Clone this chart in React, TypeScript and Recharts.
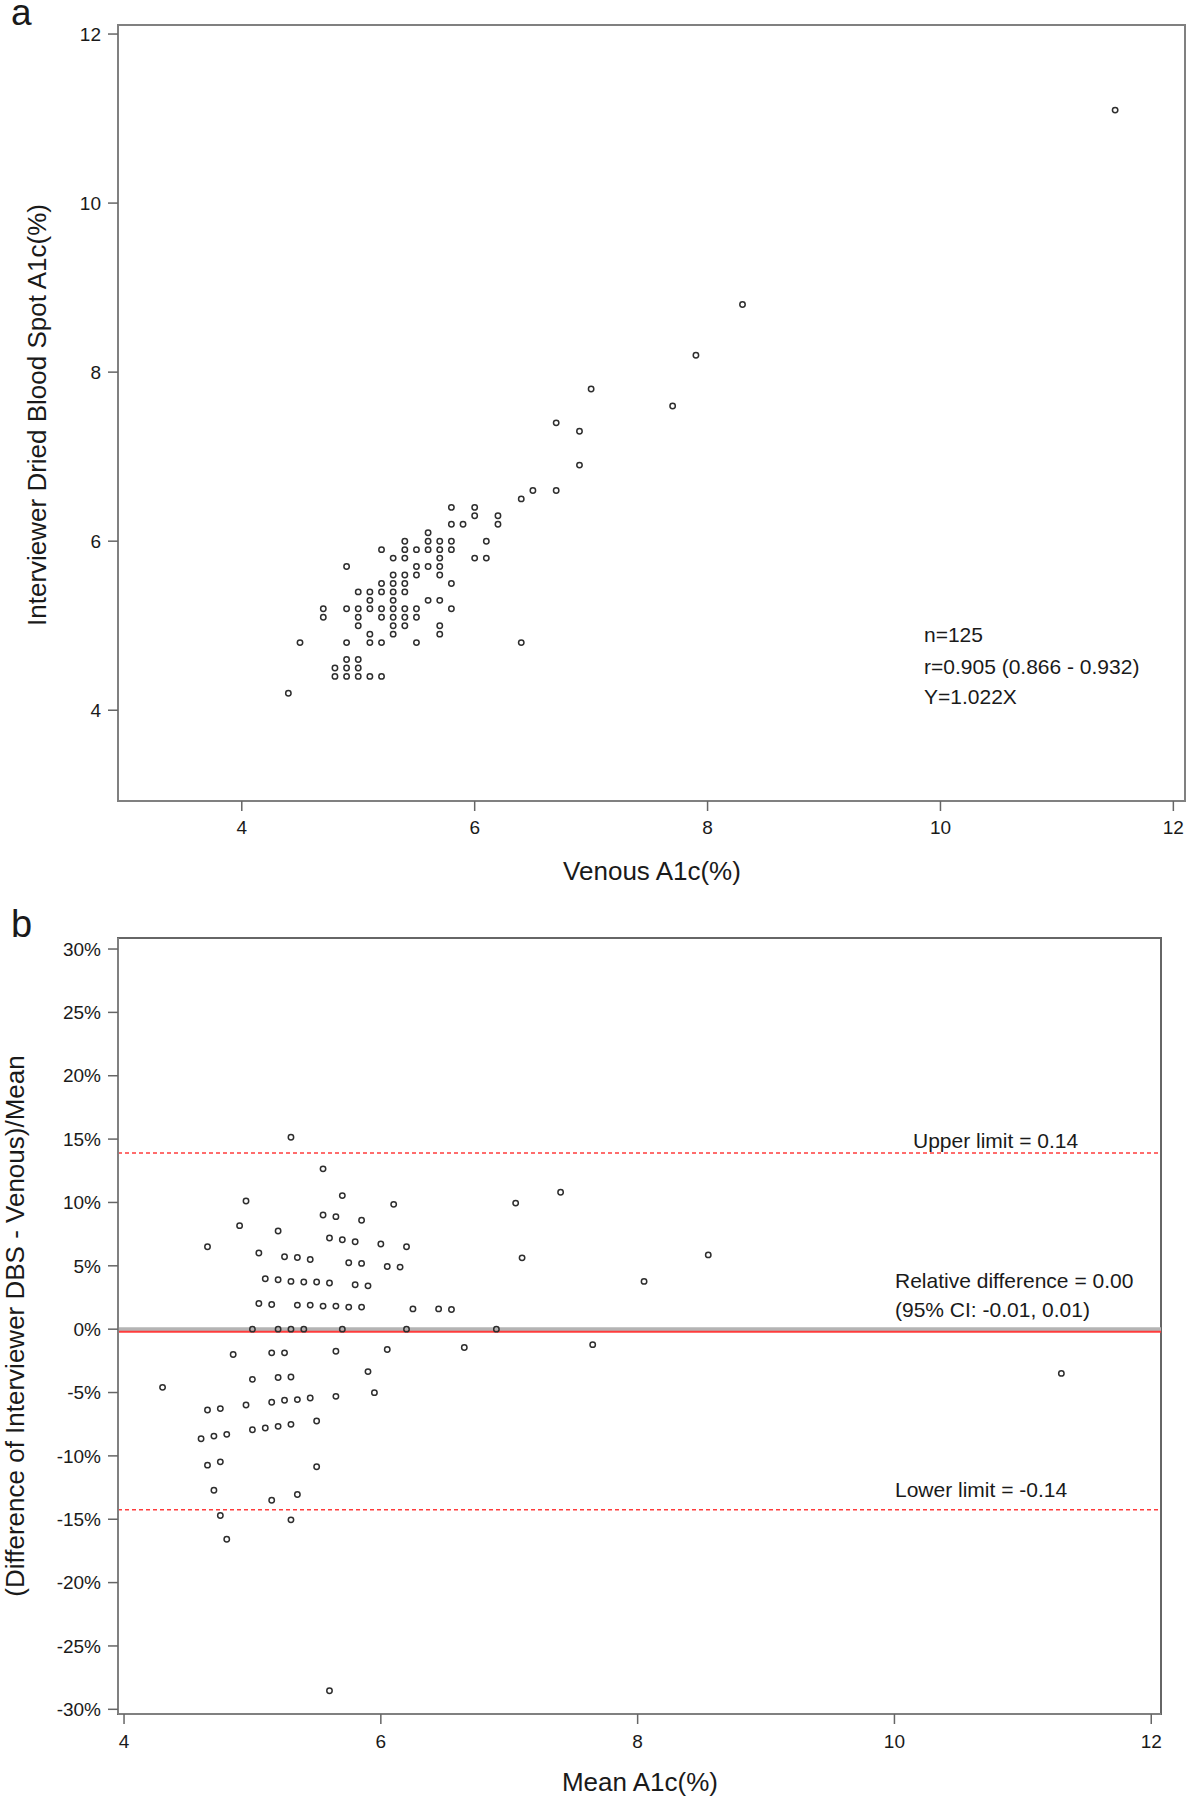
import { ReferenceArea, ReferenceLine, Scatter, ScatterChart, XAxis, YAxis } from 'recharts'

const FONT = '"Liberation Sans", Arial, Helvetica, sans-serif'
const INK = '#1a1a1a'
const FRAME = '#808080'
const RED = '#ff3c3c'

// panel a: venous vs interviewer DBS A1c (%), overlapping points drawn once
const venousA1c = [
  6.5, 6.7, 6.4, 5.8, 6.0, 6.0, 6.2, 5.8, 5.9, 6.2, 5.6,
  5.4, 5.6, 5.7, 5.8, 6.1,
  5.2, 5.4, 5.5, 5.6, 5.7, 5.8,
  5.3, 5.4, 5.7, 6.0, 6.1,
  4.9, 5.5, 5.6, 5.7,
  5.3, 5.4, 5.5, 5.7,
  5.2, 5.3, 5.4, 5.8,
  5.0, 5.1, 5.2, 5.3, 5.4,
  5.1, 5.3, 5.6, 5.7,
  4.7, 4.9, 5.0, 5.1, 5.2, 5.3, 5.4, 5.5, 5.8,
  4.7, 5.0, 5.2, 5.3, 5.4, 5.5,
  5.0, 5.3, 5.4, 5.7,
  5.1, 5.3, 5.7,
  4.5, 4.9, 5.1, 5.2, 5.5, 6.4,
  4.9, 5.0,
  4.8, 4.9, 5.0,
  4.8, 4.9, 5.0, 5.1, 5.2,
  4.4,
  6.7, 6.9, 6.9, 7.0, 7.7, 7.9, 8.3, 11.5,
]
const dbsA1c = [
  6.6, 6.6, 6.5, 6.4, 6.4, 6.3, 6.3, 6.2, 6.2, 6.2, 6.1,
  6.0, 6.0, 6.0, 6.0, 6.0,
  5.9, 5.9, 5.9, 5.9, 5.9, 5.9,
  5.8, 5.8, 5.8, 5.8, 5.8,
  5.7, 5.7, 5.7, 5.7,
  5.6, 5.6, 5.6, 5.6,
  5.5, 5.5, 5.5, 5.5,
  5.4, 5.4, 5.4, 5.4, 5.4,
  5.3, 5.3, 5.3, 5.3,
  5.2, 5.2, 5.2, 5.2, 5.2, 5.2, 5.2, 5.2, 5.2,
  5.1, 5.1, 5.1, 5.1, 5.1, 5.1,
  5.0, 5.0, 5.0, 5.0,
  4.9, 4.9, 4.9,
  4.8, 4.8, 4.8, 4.8, 4.8, 4.8,
  4.6, 4.6,
  4.5, 4.5, 4.5,
  4.4, 4.4, 4.4, 4.4, 4.4,
  4.2,
  7.4, 7.3, 6.9, 7.8, 7.6, 8.2, 8.8, 11.1,
]

// panel b: Bland-Altman, mean A1c vs relative difference (%)
const meanA1c = [
  5.30, 5.55, 4.95, 5.70, 6.10, 4.90, 5.55, 5.65, 5.85, 5.20, 4.65, 5.60,
  5.70, 5.80, 6.00, 6.20, 5.05, 5.25, 5.35, 5.45, 5.75, 5.85, 6.05, 6.15,
  5.10, 5.20, 5.30, 5.40, 5.50, 5.60, 5.80, 5.90, 5.05, 5.15, 5.35, 5.45,
  5.55, 5.65, 5.75, 5.85, 6.25, 6.45, 6.55, 7.05, 7.40, 7.10, 8.55, 8.05,
  5.00, 5.20, 5.30, 5.40, 5.70, 6.20, 6.90,
  4.85, 5.15, 5.25, 5.65, 6.05, 6.65, 7.65, 11.30, 4.30, 5.00, 5.20, 5.30,
  5.90, 5.95, 5.65, 5.45, 5.35, 5.25, 5.15, 4.95, 4.65, 4.75, 5.50, 5.30,
  5.20, 5.10, 5.00, 4.80, 4.70, 4.60, 4.75, 4.65, 5.50, 4.70, 5.35, 5.15,
  4.75, 5.30, 4.80, 5.60,
]
const relDiff = [
  15.15, 12.65, 10.12, 10.54, 9.85, 8.17, 9.01, 8.88, 8.59, 7.75, 6.51, 7.19,
  7.06, 6.90, 6.72, 6.51, 6.01, 5.72, 5.66, 5.50, 5.24, 5.19, 4.95, 4.90,
  3.98, 3.90, 3.77, 3.72, 3.72, 3.64, 3.50, 3.42, 2.03, 1.95, 1.90, 1.90,
  1.82, 1.82, 1.74, 1.74, 1.60, 1.60, 1.55, 9.95, 10.81, 5.63, 5.86, 3.77,
  0, 0, 0, 0, 0, 0, 0,
  -2.0, -1.87, -1.87, -1.74, -1.61, -1.45, -1.22, -3.49, -4.59, -3.96, -3.82, -3.77,
  -3.35, -5.01, -5.30, -5.43, -5.56, -5.61, -5.77, -5.98, -6.38, -6.27, -7.25, -7.51,
  -7.67, -7.80, -7.94, -8.30, -8.44, -8.65, -10.47, -10.73, -10.86, -12.71, -13.05, -13.50,
  -14.71, -15.05, -16.58, -28.54,
]

const aTicks = [4, 6, 8, 10, 12]
const bXTicks = [4, 6, 8, 10, 12]
const bYTicks = [-30, -25, -20, -15, -10, -5, 0, 5, 10, 15, 20, 25, 30]

const meanDiff = -0.2
const upperLimit = 13.9
const lowerLimit = -14.25

const scatterA = venousA1c.map((x, i) => ({ x, y: dbsA1c[i] }))
const scatterB = meanA1c.map((x, i) => ({ x, y: relDiff[i] }))

const A_X: [number, number] = [2.937, 12.1]
const A_Y: [number, number] = [2.926, 12.107]
const B_X: [number, number] = [3.953, 12.076]
const B_Y: [number, number] = [-30.37, 30.87]

const tickStyle = { fontSize: 19, fill: INK, fontFamily: FONT }
const tickLine = { stroke: '#666', strokeWidth: 1.5 }
const axisLine = { stroke: FRAME, strokeWidth: 2 }

function Ring(props: any) {
  const { cx, cy } = props
  if (cx == null || cy == null) return null
  return <circle cx={cx} cy={cy} r={2.7} fill="none" stroke="#2e2e2e" strokeWidth={1.5} />
}

function PanelA() {
  return (
    <ScatterChart width={1187} height={880} margin={{ top: 25, right: 2, bottom: 39, left: 18 }}>
      <XAxis
        type="number"
        dataKey="x"
        domain={A_X}
        ticks={aTicks}
        interval={0}
        allowDataOverflow
        height={40}
        tickSize={10}
        tickMargin={10}
        tick={tickStyle}
        tickLine={tickLine}
        axisLine={axisLine}
      />
      <YAxis
        type="number"
        dataKey="y"
        domain={A_Y}
        ticks={aTicks}
        interval={0}
        allowDataOverflow
        width={100}
        tickSize={10}
        tickMargin={7}
        tick={tickStyle}
        tickLine={tickLine}
        axisLine={axisLine}
      />
      <ReferenceArea x1={A_X[0]} x2={A_X[1]} y1={A_Y[0]} y2={A_Y[1]} fill="none" stroke={FRAME} strokeWidth={2} />
      <Scatter data={scatterA} shape={Ring} isAnimationActive={false} />
    </ScatterChart>
  )
}

function PanelB() {
  return (
    <ScatterChart width={1187} height={900} margin={{ top: 38, right: 26, bottom: 46, left: 18 }}>
      <XAxis
        type="number"
        dataKey="x"
        domain={B_X}
        ticks={bXTicks}
        interval={0}
        allowDataOverflow
        height={40}
        tickSize={10}
        tickMargin={11}
        tick={tickStyle}
        tickLine={tickLine}
        axisLine={axisLine}
      />
      <YAxis
        type="number"
        dataKey="y"
        domain={B_Y}
        ticks={bYTicks}
        interval={0}
        allowDataOverflow
        width={100}
        tickSize={10}
        tickMargin={7}
        tick={tickStyle}
        tickLine={tickLine}
        axisLine={axisLine}
        tickFormatter={(v) => `${v}%`}
      />
      <ReferenceArea x1={B_X[0]} x2={B_X[1]} y1={B_Y[0]} y2={B_Y[1]} fill="none" stroke="#666" strokeWidth={2} />
      <ReferenceLine y={0} stroke="#b4b4b4" strokeWidth={4} />
      <ReferenceLine y={meanDiff} stroke={RED} strokeWidth={2} />
      <ReferenceLine y={upperLimit} stroke={RED} strokeWidth={1.5} strokeDasharray="4 3" />
      <ReferenceLine y={lowerLimit} stroke={RED} strokeWidth={1.5} strokeDasharray="4 3" />
      <Scatter data={scatterB} shape={Ring} isAnimationActive={false} />
    </ScatterChart>
  )
}

export default function App() {
  const note = { fontFamily: FONT, fontSize: 21, fill: INK }
  const title = { fontFamily: FONT, fontSize: 26, fill: INK }
  return (
    <div style={{ position: 'absolute', left: 0, top: 0, width: 1187, height: 1800, background: '#fff' }}>
      <div style={{ position: 'absolute', left: 0, top: 0 }}>
        <PanelA />
      </div>
      <div style={{ position: 'absolute', left: 0, top: 900 }}>
        <PanelB />
      </div>
      <svg
        width={1187}
        height={1800}
        style={{ position: 'absolute', left: 0, top: 0, pointerEvents: 'none' }}
      >
        <text x={11} y={25} fontFamily={FONT} fontSize={37} fill={INK}>a</text>
        <text x={11} y={937} fontFamily={FONT} fontSize={38} fill={INK}>b</text>

        <text {...title} textAnchor="middle" transform="translate(46 415) rotate(-90)">
          Interviewer Dried Blood Spot A1c(%)
        </text>
        <text {...title} x={652} y={880} textAnchor="middle">Venous A1c(%)</text>
        <text {...note} x={924} y={642}>n=125</text>
        <text {...note} x={924} y={674}>r=0.905 (0.866 - 0.932)</text>
        <text {...note} x={924} y={704}>Y=1.022X</text>

        <text {...title} textAnchor="middle" transform="translate(24 1326) rotate(-90)">
          (Difference of Interviewer DBS - Venous)/Mean
        </text>
        <text {...title} x={640} y={1791} textAnchor="middle">Mean A1c(%)</text>
        <text {...note} x={913} y={1148}>Upper limit = 0.14</text>
        <text {...note} x={895} y={1288}>Relative difference = 0.00</text>
        <text {...note} x={895} y={1317}>(95% CI: -0.01, 0.01)</text>
        <text {...note} x={895} y={1497}>Lower limit = -0.14</text>
      </svg>
    </div>
  )
}
